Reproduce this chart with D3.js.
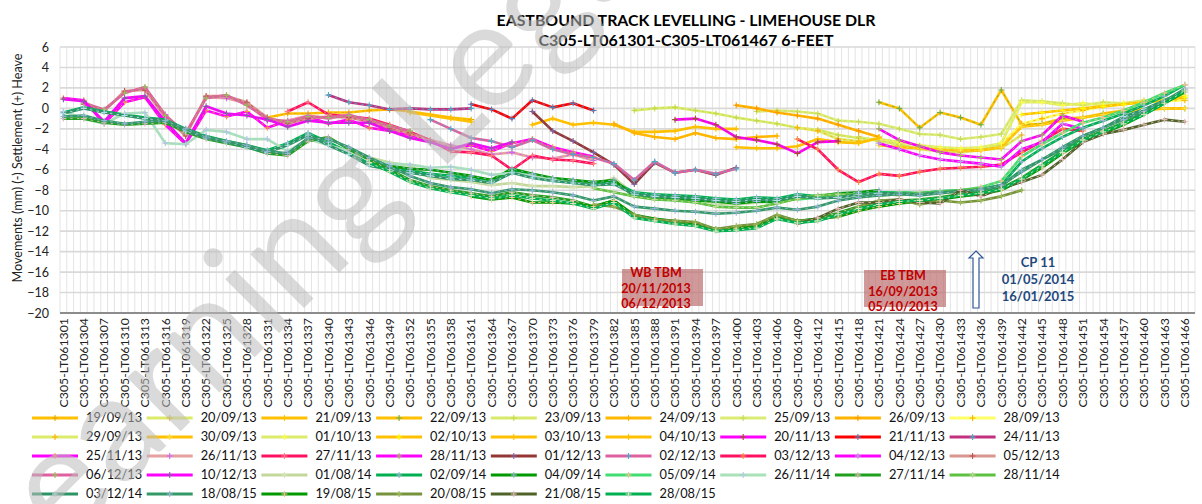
<!DOCTYPE html>
<html><head><meta charset="utf-8">
<script src="https://cdn.jsdelivr.net/npm/d3@7"></script>
<style>body{margin:0;background:#fff;} svg{display:block;font-family:Lato,"Liberation Sans",sans-serif;}</style>
</head><body><svg id="c" width="1202" height="504"></svg>
<script>
// ---------- DATA ----------
const categories = d3.range(1301, 1468).map(n => "C305-LT06" + n);
const tickLabels = categories.filter((d, i) => i % 3 === 0);
const yTicks = d3.range(-20, 7, 2);
const titleLines = ["EASTBOUND TRACK LEVELLING - LIMEHOUSE DLR", "C305-LT061301-C305-LT061467 6-FEET"];
const yTitle = "Movements (mm) (-) Settlement (+) Heave";

// each series: values at every labelled category, starting at the given one
function span(start, vals) {
  const i0 = tickLabels.indexOf("C305-LT06" + start);
  const arr = tickLabels.map(() => null);
  vals.forEach((v, k) => arr[i0 + k] = v);
  return arr;
}
const seriesNames = ["19/09/13","20/09/13","21/09/13","22/09/13","23/09/13","24/09/13","25/09/13","26/09/13","28/09/13",
 "29/09/13","30/09/13","01/10/13","02/10/13","03/10/13","04/10/13","20/11/13","21/11/13","24/11/13",
 "25/11/13","26/11/13","27/11/13","28/11/13","01/12/13","02/12/13","03/12/13","04/12/13","05/12/13",
 "06/12/13","10/12/13","01/08/14","02/09/14","04/09/14","05/09/14","26/11/14","27/11/14","28/11/14",
 "03/12/14","18/08/15","19/08/15","20/08/15","21/08/15","28/08/15"];

const d190913 = span(1331, [-0.9,-0.5,-0.5,-0.4,-0.4,-0.2,-0.1,-0.3,-0.6,-0.9,-1.1]);
const d200913 = span(1418, [-2.8,-3.2,-3.5,-4.0,-4.2,-4.3,-4.1,-3.9,-2.6]);
const d210913 = span(1370, [-1.6,-1.0,-1.6,-1.4,-1.6,-2.3,-2.3,-2.2,-1.8,-2.0,-2.0]);
const d220913 = span(1421, [0.6,0.0,-1.9,-0.4,-0.9,-1.6,1.8,-1.6,-1.5,-1.0,-0.9,-0.5,-0.2,-0.1,0.0,0.0]);
const d230913 = span(1385, [-0.2,0.0,0.1,-0.2,-0.5,-0.9,-1.2,-1.5,-1.9,-2.1,-2.6,-2.9,-3.1,-3.6,-3.9,-4.0,-4.1,-4.0,-3.6]);
const d240913 = span(1382, [-1.5,-2.4,-2.8,-3.0,-2.4,-2.9,-3.0,-2.8,-2.7]);
const d250913 = span(1403, [-0.3,-0.2,-0.3,-0.5,-1.2,-1.3,-1.5,-2.0,-2.5,-2.6,-3.0,-2.8,-2.5,0.8,0.7,0.5,0.3,0.6,0.5,0.8,0.8,1.0]);
const d260913 = span(1400, [0.3,0.0,-0.4,-0.7,-1.0,-1.6,-2.2,-2.8]);
const d280913 = span(1439, [-3.5,-1.5,-1.0,-0.5,-0.2,0.2,0.4,0.6,0.7,0.8]);
const d290913 = span(1409, [-1.9,-2.2,-3.0,-3.2,-2.9]);
const d300913 = span(1421, [-3.6,-3.8,-3.9,-4.0,-4.1,-4.1,-3.8,-1.8,-1.6,-1.2,-0.9,-0.6,-0.3,-0.2,0.0,0.0]);
const d011013 = span(1421, [-3.0,-3.3,-3.6,-3.8,-3.9,-3.8,-3.4,0.6,0.6,0.3,0.5,0.3,0.5,0.6,0.9,1.3]);
const d021013 = span(1442, [-0.6,-0.4,-0.2,0.0,0.2,0.4,0.6,0.8,1.1]);
const d031013 = span(1352, [-0.4,-0.7,-1.0,-1.3]);
const d041013 = span(1400, [-3.8,-3.9,-3.9,-3.7,-3.0,-3.3,-3.4,-2.9]);
const d201113 = span(1391, [-1.1,-1.0,-1.6,-2.8,-3.1,-3.5,-4.4,-3.3,-3.2]);
const d211113 = span(1361, [0.4,-0.1,-1.0,0.8,0.1,0.5,-0.2]);
const d241113 = span(1340, [1.3,0.6,0.3,-0.1,0.0,-0.1,-0.1,0.0]);
const d251113 = span(1301, [1.0,0.8,-1.5,0.6,1.1,-1.6,-3.5,-0.2,-0.8,-0.3,-1.9,-1.2,-0.8,-1.5,-1.1,-1.9,-2.2,-2.6,-3.2,-3.9,-3.6,-4.2,-3.4,-3.0,-3.8,-4.3,-4.7]);
const d261113 = span(1304, [0.6,-0.2,1.6,2.0,-0.6,-2.6,1.1,1.0,0.5,-1.2,-1.2,-0.7,-1.0,-0.6,-1.2,-1.8,-2.3,-3.1,-3.6,-4.0,-4.5,-4.3,-4.8,-4.9,-4.5,-5.1]);
const d271113 = span(1334, [-0.3,0.6,-0.6,-0.8,-1.0,-1.6,-2.3,-3.1,-4.2,-4.3,-4.6,-6.0,-4.6,-5.0,-5.1,-5.4]);
const d281113 = span(1421, [-2.0,-3.1,-3.7,-4.3,-4.6,-4.8,-5.0,-3.2,-2.6,-0.7,-1.3]);
const d011213 = span(1370, [-0.3,-2.2,-3.2,-4.3,-5.5,-7.4,-5.3,-6.3,-6.0,-6.5,-5.8]);
const d021213 = span(1355, [-1.1,-2.0,-2.9,-3.2,-3.8,-3.1,-4.0,-4.5,-4.8,-5.4,-7.0,-5.2,-6.3,-6.0,-6.4,-5.9]);
const d031213 = span(1409, [-3.0,-4.0,-6.0,-7.2,-6.4,-6.6,-6.2,-5.9,-5.8,-5.7,-5.5,-4.3,-3.2,-2.0,-2.2]);
const d041213 = span(1421, [-3.4,-4.0,-4.6,-5.0,-5.2,-5.4,-5.7,-4.0,-3.3,-1.5,-2.0]);
const d051213 = span(1304, [0.4,-0.3,1.7,1.8,-0.9,-2.7,1.2,1.2,0.6,-0.9,-1.5,-1.0,-0.8,-0.9,-1.3,-2.0,-2.4,-3.3,-3.8]);
const d061213 = span(1304, [0.5,-0.1,1.5,2.1,-0.7,-2.4,1.0,1.3,0.3,-1.0,-1.3,-0.8,-0.9,-0.7,-1.1,-1.7,-2.2]);
const d101213 = span(1301, [0.9,0.7,-1.3,1.0,1.2,-1.3,-3.4,0.2,-0.5,-0.7,-1.1,-1.8,-1.2,-1.4,-1.4,-1.4,-2.2,-2.9,-3.3,-4.0,-3.4,-3.9,-3.3]);
const d010814 = span(1346, [-4.8,-5.3,-5.6,-6.8,-7.0,-7.2,-7.5,-7.3,-7.6,-7.6,-7.7,-7.6,-6.8,-8.4,-8.7,-8.9,-8.9,-9.3,-9.4,-9.2,-9.0,-8.6,-8.6,-8.4,-8.3,-8.3,-8.5,-8.2,-8.3,-8.2,-8.0]);
const d020914 = span(1301, [-0.4,0.1,-0.3,-0.6,-0.9,-1.1,-2.0,-2.7,-3.2,-3.6,-4.1,-3.4,-2.4,-3.3,-4.3,-5.4,-5.8,-6.1,-6.4,-6.6,
 -6.8,-7.0,-6.1,-6.6,-6.9,-7.1,-7.3,-7.2,-8.2,-8.4,-8.5,-8.6,-8.8,-8.9,-8.7,-8.8,-8.4,-8.6,-8.5,-8.3,
 -8.2,-8.2,-8.3,-8.1,-8.0,-7.9,-7.5,-5.2,-3.9,-2.8,-1.9,-1.2,-0.5,0.3,1.2,2.3]);
const d040914 = span(1346, [-5.2,-5.6,-5.9,-6.0,-6.3,-6.6,-7.0,-5.9,-6.4,-6.8,-7.0,-7.2,-7.0,-8.6,-8.7,-8.9,-9.0,-9.1,-9.3,-9.1,-9.2,-8.8,-8.6,-8.3,-8.2,-8.0]);
const d050914 = span(1409, [-8.9,-8.7,-8.6,-8.4,-8.3,-8.2,-8.3,-8.1,-8.0,-7.7,-7.1,-4.7,-3.5,-2.4,-1.4,-0.9,-0.2,0.6,1.5,2.3]);
const d261114 = span(1301, [-0.3,-1.0,-1.5,-0.5,-0.4,-3.4,-3.5,-2.1,-2.3,-3.0,-3.0,-4.2,-3.0,-3.6,-4.2,-5.0,-5.4,-5.5,-5.8,-5.7,-6.0,-6.5,-6.3,-6.6,-7.0,-7.3,-7.5]);
const d271114 = span(1301, [-1.0,-1.0,-1.4,-1.6,-1.5,-1.4,-2.3,-3.0,-3.4,-3.8,-4.4,-4.6,-3.2,-2.8,-4.0,-5.0,-6.0,-7.0,-7.6,-8.0,
 -8.3,-8.6,-8.2,-8.5,-8.7,-9.0,-9.6,-9.0,-10.4,-10.8,-11.1,-11.3,-11.8,-11.7,-11.5,-10.6,-11.0,-10.8,-10.2,-9.6,
 -9.3,-9.0,-8.9,-8.7,-8.4,-8.2,-7.8,-6.8,-5.5,-4.2,-3.0,-2.2,-1.4,-0.5,0.6,1.8]);
const d281114 = span(1379, [-7.8,-8.2,-8.6,-8.9,-9.0,-9.2,-9.6,-9.7,-9.7,-9.3,-8.8,-8.5,-8.4,-8.4,-8.5,-8.4,-8.3,-8.2,-8.0,-7.8]);
const d031214 = span(1301, [-0.5,0.0,-0.4,-0.7,-1.0,-1.2,-2.2,-2.9,-3.3,-3.8,-4.3,-3.6,-2.6,-3.6,-4.5,-5.6,-6.0,-6.3,-6.6,-6.9,
 -7.0,-7.3,-6.3,-6.8,-7.1,-7.3,-7.5,-7.4,-8.4,-8.6,-8.7,-8.8,-9.0,-9.1,-8.9,-9.0,-8.6,-8.8,-8.7,-8.4,
 -8.3,-8.3,-8.4,-8.2,-8.1,-8.0,-7.6,-6.0,-5.0,-4.0,-2.7,-1.9,-0.8,-0.1,0.8,1.6]);
const d180815 = span(1301, [-0.8,-0.7,-1.2,-1.5,-1.3,-1.2,-2.0,-2.8,-3.2,-3.6,-4.2,-4.4,-2.9,-3.0,-3.8,-4.8,-5.7,-6.6,-7.3,-7.7,
 -7.9,-8.3,-7.9,-8.0,-8.2,-8.5,-9.0,-8.6,-9.6,-9.8,-10.0,-10.1,-10.3,-10.2,-10.0,-9.7,-9.9,-9.6,-9.0,-8.7,
 -8.5,-8.4,-8.5,-8.3,-8.1,-7.9,-7.5,-6.2,-5.0,-3.8,-2.7,-1.9,-1.1,-0.3,0.7,1.9]);
const d190815 = span(1361, [-8.6,-8.9,-8.7,-9.2,-9.2,-9.3,-9.6,-9.0,-10.5,-10.8,-11.0,-11.2,-11.9,-11.7,-11.6,-10.5,-11.0,-10.8,-10.6,-10.0,
 -9.6,-9.3,-9.1,-8.9,-8.6,-8.4,-8.0,-7.0,-5.8,-4.4,-3.2,-2.4,-1.6,-0.6,0.5,1.6]);
const d200815 = span(1379, [-9.4,-9.6,-10.4,-10.9,-11.0,-11.1,-11.8,-11.5,-11.3,-10.4,-11.0,-10.9,-10.5,-9.6,-9.0,-8.9,-9.4,-9.0,-9.2,-9.0,-8.6,-8.0]);
const d210815 = span(1409, [-11.3,-10.7,-9.8,-9.2,-9.2,-8.9,-9.2,-9.3,-8.0,-8.6,-7.8,-7.2,-6.5,-5.0,-3.3,-2.5,-2.1,-1.6,-1.1,-1.3]);
const d280815 = span(1346, [-5.3,-6.2,-7.2,-7.8,-8.2,-8.5,-8.8,-8.5,-8.8,-9.0,-9.3,-9.8,-9.2,-10.7,-11.0,-11.3,-11.5,-12.0,-11.9,-11.7,
 -10.8,-11.2,-11.0,-10.4,-9.8,-9.4,-9.1,-9.0,-8.8,-8.5,-8.3,-7.9,-6.9,-5.6,-4.3,-3.1,-2.3,-1.5,-0.6,0.5,1.7]);

const seriesValues = [d190913,d200913,d210913,d220913,d230913,d240913,d250913,d260913,d280913,
 d290913,d300913,d011013,d021013,d031013,d041013,d201113,d211113,d241113,
 d251113,d261113,d271113,d281113,d011213,d021213,d031213,d041213,d051213,
 d061213,d101213,d010814,d020914,d040914,d050914,d261114,d271114,d281114,
 d031214,d180815,d190815,d200815,d210815,d280815];

// ---------- STYLE ----------
const lineColors = ["#FFC000","#DDEB6B","#FFC000","#FFC000","#D9EA6A","#FFB800","#DCEB74","#FFB400","#FFFF66",
 "#DDEB6B","#FFC000","#DDEB6B","#FFC000","#FFC000","#FFC000","#FF00FF","#FF0000","#C0307F",
 "#FF00FF","#E6A0A0","#FF1060","#FF00FF","#943634","#E0609F","#FF1060","#FF00FF","#D9958F",
 "#E0609F","#FF00FF","#C4D79B","#00B050","#009900","#40DD70","#A9E2B8","#1EA01E","#5CC040",
 "#2E9466","#339966","#009900","#77933C","#4F6228","#00B050"];
const markerColors = ["#E6A800","#F0B030","#FFC000","#70AD47","#C5D94E","#FFB000","#C5DC5A","#FF9900","#FFB000",
 "#FFB000","#FFE040","#FFFF40","#FFFF00","#FFC000","#FFC000","#A0522D","#4F81BD","#4BACC6",
 "#F79646","#CC66FF","#FF8080","#9BBB59","#8064A2","#4BACC6","#F79646","#B4A7D6","#C0504D",
 "#9BBB59","#8064A2","#D8E4BC","#95B3D7","#95B3D7","#FAC090","#B4C6E7","#E6B9B8","#C4D79B",
 "#B7DEE8","#95B3D7","#FAC090","#9BBB59","#E6B9B8","#D7E4BD"];

// ---------- DRAW ----------
const svg = d3.select("#c");
const P = {left: 60, right: 1195, top: 47, bottom: 313};
const x = d3.scaleBand().domain(categories).range([P.left, P.right]);
const y = d3.scaleLinear().domain([-20, 6]).range([P.bottom, P.top]);
const cx = c => x(c) + x.bandwidth() / 2;

svg.append("rect").attr("width", 1202).attr("height", 504).attr("fill", "#fff");

// vertical gridlines
svg.append("g").selectAll("line").data(categories.map(c => x(c)).concat([P.right]))
  .join("line").attr("x1", d => d).attr("x2", d => d).attr("y1", P.top).attr("y2", P.bottom)
  .attr("stroke", "#E4E4E4").attr("stroke-width", 1);
// horizontal gridlines
svg.append("g").selectAll("line").data(yTicks.filter(v => v > -20))
  .join("line").attr("x1", P.left).attr("x2", P.right).attr("y1", d => y(d)).attr("y2", d => y(d))
  .attr("stroke", "#D9D9D9").attr("stroke-width", 1.6);

// y axis
const ya = svg.append("g").attr("transform", `translate(${P.left},0)`)
  .call(d3.axisLeft(y).tickValues(yTicks).tickSize(0).tickPadding(11));
ya.select(".domain").remove();
ya.selectAll("text").attr("font-size", 12.5).attr("fill", "#222").style("font-family", "Lato");

// x axis
const xa = svg.append("g").attr("transform", `translate(0,${P.bottom})`)
  .call(d3.axisBottom(x).tickValues(tickLabels).tickSize(0));
xa.select(".domain").remove();
xa.selectAll("text").attr("transform", "rotate(-90)").attr("text-anchor", "end")
  .attr("x", -5).attr("y", 0).attr("dy", "0.35em").attr("font-size", 12.3).attr("fill", "#222")
  .style("font-family", "Lato");
svg.append("line").attr("x1", P.left).attr("x2", P.right).attr("y1", P.bottom).attr("y2", P.bottom)
  .attr("stroke", "#8C8C8C").attr("stroke-width", 2);

// series
const line = d3.line().defined(d => d.v != null).x(d => cx(d.c)).y(d => y(d.v));
const gS = svg.append("g");
seriesValues.forEach((vals, i) => {
  const pts = tickLabels.map((c, k) => ({c, v: vals[k]}));
  gS.append("path").attr("d", line(pts)).attr("fill", "none").attr("stroke", lineColors[i])
    .attr("stroke-width", 2.6).attr("stroke-linejoin", "round").attr("stroke-linecap", "round");
  gS.append("path").attr("d", line(pts)).attr("fill", "none").attr("stroke", markerColors[i])
    .attr("stroke-width", 1).attr("stroke-dasharray", "2.5,4.3").attr("opacity", 0.9);
  gS.append("g").selectAll("path").data(pts.filter(d => d.v != null)).join("path")
    .attr("d", d => `M${cx(d.c) - 3},${y(d.v)}h6M${cx(d.c)},${y(d.v) - 3}v6`)
    .attr("stroke", markerColors[i]).attr("stroke-width", 1.1);
});

// title
svg.selectAll(".title").data(titleLines).join("text")
  .attr("x", 686).attr("y", (d, i) => 26 + i * 20).attr("text-anchor", "middle")
  .attr("font-weight", "bold").attr("font-size", 16).attr("fill", "#000")
  .attr("textLength", (d, i) => i === 0 ? 379 : 295).attr("lengthAdjust", "spacingAndGlyphs")
  .text(d => d);

// y title
svg.append("text").attr("transform", "translate(18,168) rotate(-90)").attr("text-anchor", "middle")
  .attr("dy", "0.35em").attr("font-size", 12.5).attr("fill", "#222")
  .attr("textLength", 229).attr("lengthAdjust", "spacingAndGlyphs").text(yTitle);

// annotations
function box(x0, y0, w, h, lines, cxT, y1, col) {
  svg.append("rect").attr("x", x0).attr("y", y0).attr("width", w).attr("height", h)
    .attr("fill", "#B96A6A").attr("fill-opacity", 0.68);
  svg.append("g").selectAll("text").data(lines).join("text")
    .attr("x", cxT).attr("y", (d, i) => y1 + i * 15.5).attr("text-anchor", "middle")
    .attr("font-weight", "bold").attr("font-size", 12.5).attr("fill", col).text(d => d);
}
box(622, 269, 81, 37, ["WB TBM", "20/11/2013", "06/12/2013"], 656, 277, "#C00000");
box(864, 270, 82, 37, ["EB TBM", "16/09/2013", "05/10/2013"], 903, 280, "#C00000");
svg.append("path")
  .attr("d", "M976,251 L983,258 L979,258 L979,308 L973,308 L973,258 L969,258 Z")
  .attr("fill", "#fff").attr("stroke", "#2F5597").attr("stroke-width", 1.2);
svg.append("g").selectAll("text").data(["CP 11", "01/05/2014", "16/01/2015"]).join("text")
  .attr("x", 1038).attr("y", (d, i) => 267 + i * 17).attr("text-anchor", "middle")
  .attr("font-weight", "bold").attr("font-size", 13).attr("fill", "#1F497D").text(d => d);

// legend
const lg = svg.append("g");
seriesNames.forEach((nm, i) => {
  const col = i % 9, row = Math.floor(i / 9);
  const x0 = 32 + col * 114.7, yy = 418 + row * 19;
  lg.append("line").attr("x1", x0).attr("x2", x0 + 46).attr("y1", yy).attr("y2", yy)
    .attr("stroke", lineColors[i]).attr("stroke-width", 3);
  lg.append("path").attr("d", `M${x0 + 20},${yy}h6M${x0 + 23},${yy - 3}v6`)
    .attr("stroke", markerColors[i]).attr("stroke-width", 1.1);
  lg.append("text").attr("x", x0 + 54).attr("y", yy).attr("dy", "0.35em")
    .attr("font-size", 12.8).attr("fill", "#111").text(nm);
});

// watermark
svg.append("text").attr("transform", "translate(14,598) rotate(-45)")
  .attr("font-size", 150).attr("fill", "#BBBBBB").attr("fill-opacity", 0.55)
  .style("font-family", "Lato").text("Learning Legacy");
</script></body></html>
